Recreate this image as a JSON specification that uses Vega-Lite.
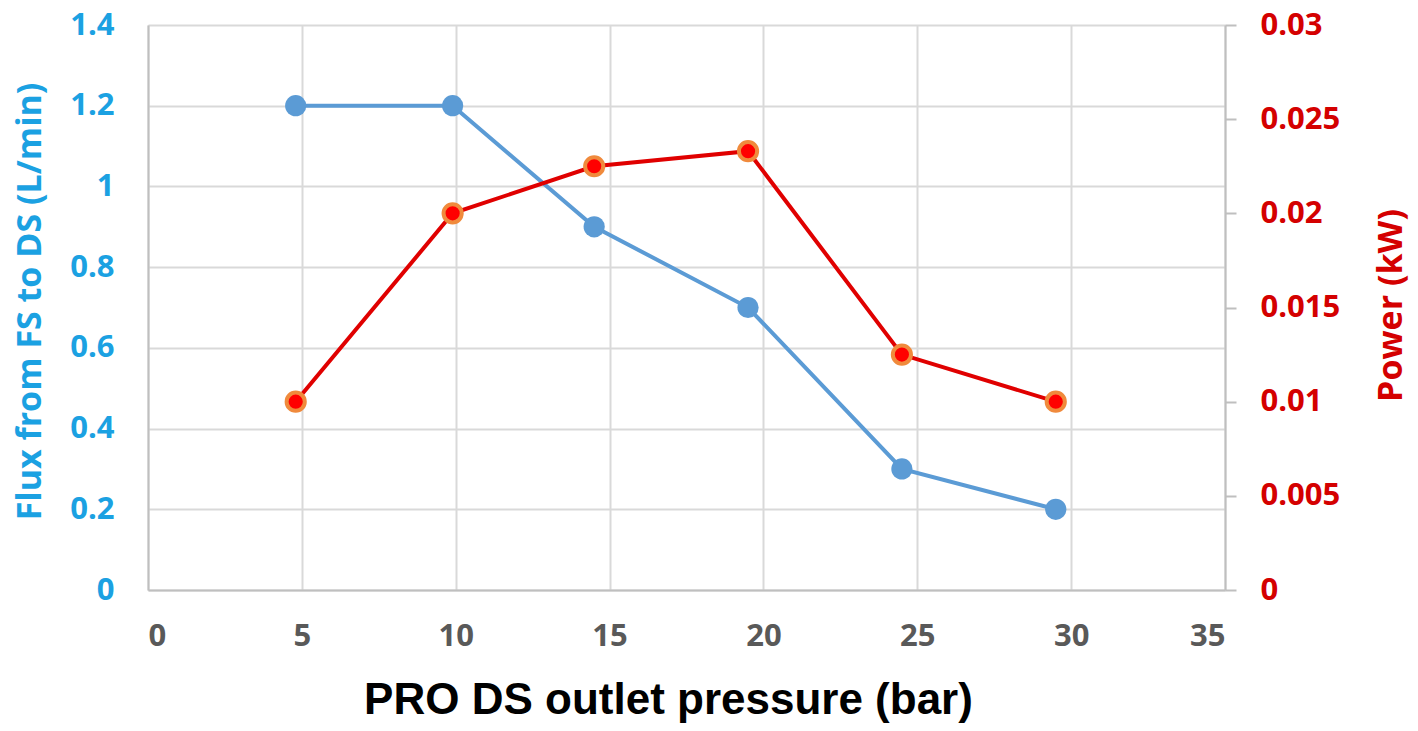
{
  "$schema": "https://vega.github.io/schema/vega-lite/v6.json",
  "width": 1077,
  "height": 565,
  "autosize": {"type": "none"},
  "padding": {"left": 148, "top": 25, "right": 193, "bottom": 141},
  "background": "white",
  "data": {
    "values": [
      {"pressure": 4.8, "flux": 1.2, "power": 0.01},
      {"pressure": 9.9, "flux": 1.2, "power": 0.02},
      {"pressure": 14.5, "flux": 0.9, "power": 0.0225},
      {"pressure": 19.5, "flux": 0.7, "power": 0.0233},
      {"pressure": 24.5, "flux": 0.3, "power": 0.0125},
      {"pressure": 29.5, "flux": 0.2, "power": 0.01}
    ]
  },
  "config": {
    "view": {"stroke": null},
    "axis": {
      "labelFont": "Open Sans",
      "labelFontWeight": "bold",
      "labelFontSize": 31,
      "titleFont": "Open Sans",
      "titleFontWeight": "bold",
      "titleFontSize": 34,
      "ticks": false,
      "gridColor": "#d9d9d9",
      "gridWidth": 2,
      "domainColor": "#bfbfbf",
      "domainWidth": 2
    }
  },
  "encoding": {
    "x": {
      "field": "pressure",
      "type": "quantitative",
      "scale": {"domain": [0, 35]},
      "axis": {
        "values": [0, 5, 10, 15, 20, 25, 30, 35],
        "title": "PRO DS outlet pressure (bar)",
        "titleFont": "Liberation Sans",
        "titleFontSize": 44,
        "titleColor": "black",
        "titleX": 520,
        "titleY": 110,
        "titleBaseline": "middle",
        "labelColor": "#595959",
        "labelPadding": 31
      }
    }
  },
  "layer": [
    {
      "mark": {
        "type": "line",
        "color": "#5b9bd5",
        "strokeWidth": 4,
        "point": {"filled": true, "size": 450, "color": "#5b9bd5", "opacity": 1}
      },
      "encoding": {
        "y": {
          "field": "flux",
          "type": "quantitative",
          "scale": {"domain": [0, 1.4]},
          "axis": {
            "orient": "left",
            "values": [0, 0.2, 0.4, 0.6, 0.8, 1, 1.2, 1.4],
            "format": "~g",
            "title": "Flux from FS to DS (L/min)",
            "titleColor": "#1ba1e2",
            "labelColor": "#1ba1e2",
            "labelPadding": 34,
            "titleX": -118,
            "titleY": 276,
            "titleBaseline": "middle"
          }
        }
      }
    },
    {
      "mark": {
        "type": "line",
        "color": "#e00000",
        "strokeWidth": 4,
        "point": {"filled": true, "size": 330, "fill": "#ff0000", "stroke": "#f08a3c", "strokeWidth": 4, "opacity": 1}
      },
      "encoding": {
        "y": {
          "field": "power",
          "type": "quantitative",
          "scale": {"domain": [0, 0.03]},
          "axis": {
            "orient": "right",
            "values": [0, 0.005, 0.01, 0.015, 0.02, 0.025, 0.03],
            "format": "~g",
            "grid": false,
            "ticks": true,
            "tickSize": 11,
            "tickColor": "#bfbfbf",
            "tickWidth": 2,
            "title": "Power (kW)",
            "titleColor": "#d40000",
            "labelColor": "#d40000",
            "labelPadding": 24,
            "titleX": 166,
            "titleY": 280,
            "titleAngle": 270,
            "titleBaseline": "middle"
          }
        }
      }
    }
  ],
  "resolve": {"scale": {"y": "independent"}}
}
